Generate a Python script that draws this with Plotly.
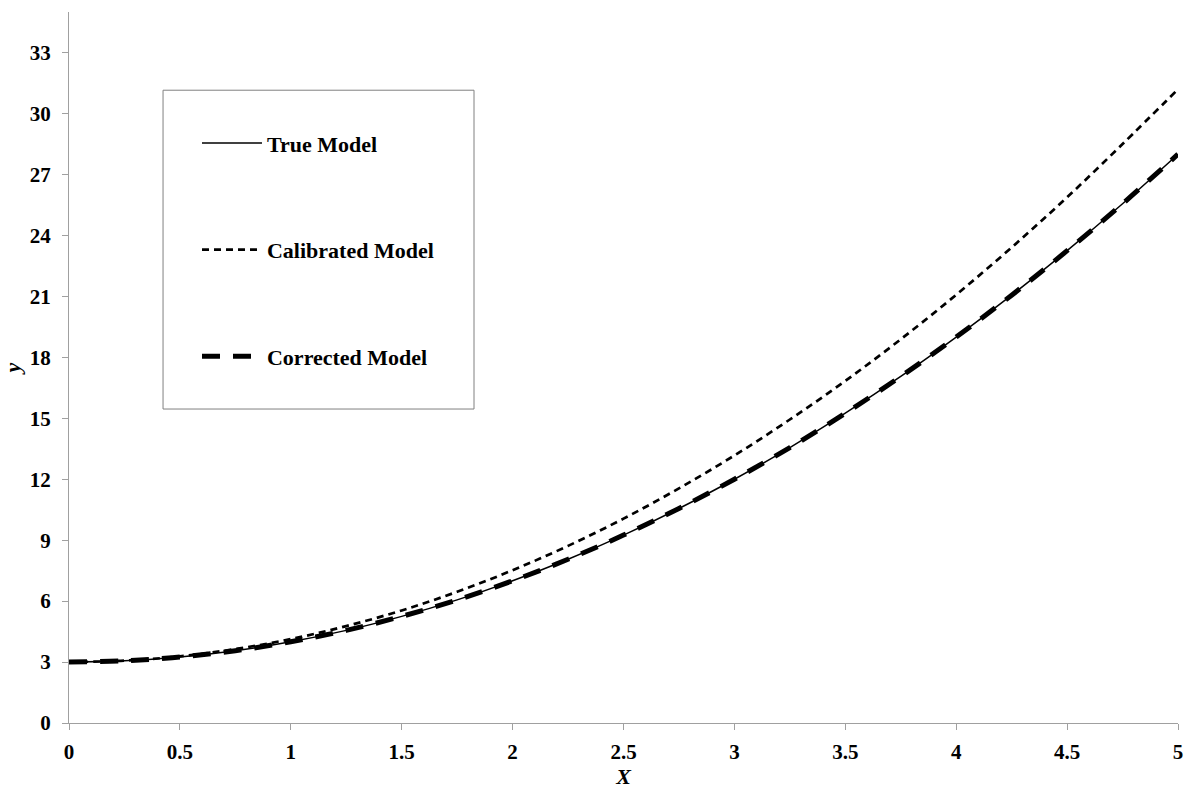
import plotly.graph_objects as go

x_vals = [0, 0.25, 0.5, 0.75, 1, 1.25, 1.5, 1.75, 2, 2.25, 2.5, 2.75, 3,
          3.25, 3.5, 3.75, 4, 4.25, 4.5, 4.75, 5]
true_model = [3.00, 3.06, 3.25, 3.56, 4.00, 4.56, 5.25, 6.06, 7.00, 8.06, 9.25,
              10.56, 12.00, 13.56, 15.25, 17.06, 19.00, 21.06, 23.25, 25.56, 28.00]
calibrated_model = [3.00, 3.07, 3.28, 3.64, 4.13, 4.77, 5.54, 6.46, 7.52, 8.72, 10.06,
                    11.55, 13.17, 14.94, 16.84, 18.89, 21.08, 23.41, 25.88, 28.50, 31.20]
corrected_model = [3.00, 3.06, 3.25, 3.56, 4.00, 4.56, 5.25, 6.06, 7.00, 8.06, 9.25,
                   10.56, 12.00, 13.56, 15.25, 17.06, 19.00, 21.06, 23.25, 25.56, 28.00]
series_names = ["True Model", "Calibrated Model", "Corrected Model"]

x_ticks = [0, 0.5, 1, 1.5, 2, 2.5, 3, 3.5, 4, 4.5, 5]
x_tick_labels = ["0", "0.5", "1", "1.5", "2", "2.5", "3", "3.5", "4", "4.5", "5"]
y_ticks = [0, 3, 6, 9, 12, 15, 18, 21, 24, 27, 30, 33]

FONT = "Liberation Serif, Times New Roman, serif"

fig = go.Figure()
fig.add_trace(go.Scatter(x=x_vals, y=true_model, name=series_names[0], mode="lines",
                         line=dict(color="black", width=1.5, shape="spline"),
                         legendgroup="a"))
fig.add_trace(go.Scatter(x=x_vals, y=calibrated_model, name=series_names[1], mode="lines",
                         line=dict(color="black", width=2.7, dash="7px,5px", shape="spline"),
                         legendgroup="b"))
fig.add_trace(go.Scatter(x=x_vals, y=corrected_model, name=series_names[2], mode="lines",
                         line=dict(color="black", width=5, dash="18px,13px", shape="spline"),
                         legendgroup="c"))

fig.update_layout(
    width=1187, height=791,
    margin=dict(l=69, r=9, t=12, b=68, autoexpand=False),
    paper_bgcolor="white", plot_bgcolor="white",
    font=dict(family=FONT, size=18, color="black"),
    showlegend=True,
    legend=dict(
        x=0.1154, y=0.845, xanchor="left", yanchor="top",
        bgcolor="rgba(0,0,0,0)", borderwidth=0,
        font=dict(family=FONT, size=22, color="black", weight="bold"),
        tracegroupgap=75, traceorder="grouped", itemwidth=60,
    ),
    shapes=[dict(type="rect", xref="paper", yref="paper",
                 x0=0.0848, x1=0.3652, y0=0.4416, y1=0.890,
                 line=dict(color="#808080", width=1), fillcolor="rgba(0,0,0,0)")],
    xaxis=dict(
        range=[0, 5], tickvals=x_ticks, ticktext=x_tick_labels, automargin=False,
        showgrid=False, zeroline=False, showline=True, linecolor="#a0a0a0", linewidth=1,
        ticks="outside", ticklen=6, tickcolor="#a0a0a0", ticklabelstandoff=4,
        tickfont=dict(family=FONT, size=21, color="black", weight="bold"),
        title=dict(text="<b><i>X</i></b>", font=dict(family=FONT, size=22), standoff=4),
    ),
    yaxis=dict(
        range=[0, 35], tickvals=y_ticks, automargin=False,
        showgrid=False, zeroline=False, showline=True, linecolor="#a0a0a0", linewidth=1,
        ticks="outside", ticklen=6, tickcolor="#a0a0a0", ticklabelstandoff=7,
        tickfont=dict(family=FONT, size=21, color="black", weight="bold"),
        title=dict(text="<b><i>y</i></b>", font=dict(family=FONT, size=22), standoff=10),
    ),
)

fig.write_html("out.html", config={"displayModeBar": False},
               post_script="document.body.style.margin='0px';")
